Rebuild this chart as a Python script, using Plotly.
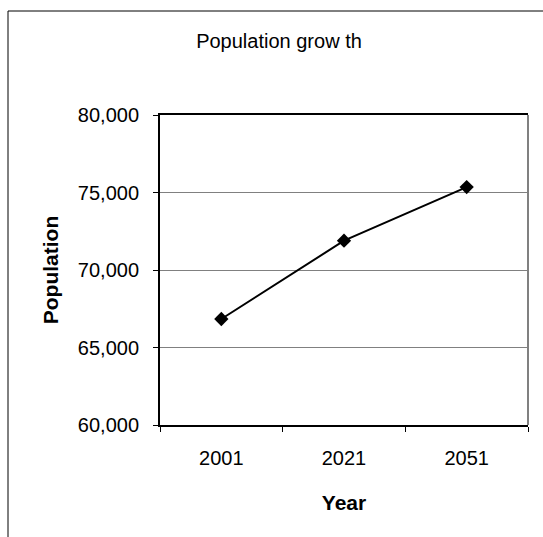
import plotly.graph_objects as go

years = ["2001", "2021", "2051"]
population = [66840, 71890, 75350]
y_ticks = [60000, 65000, 70000, 75000, 80000]
y_tick_labels = ["60,000", "65,000", "70,000", "75,000", "80,000"]

FONT = "Arial, Liberation Sans, sans-serif"

fig = go.Figure()
fig.add_trace(go.Scatter(
    x=years, y=population, mode="lines+markers",
    line=dict(color="black", width=2),
    marker=dict(symbol="diamond", size=11, color="black"),
    showlegend=False, hoverinfo="skip",
))

fig.update_layout(
    width=543, height=537,
    margin=dict(l=160, r=15, t=115, b=112),
    paper_bgcolor="white", plot_bgcolor="white",
    font=dict(family=FONT, color="black", size=20),
    title=dict(text="Population grow th", x=279 / 543, xanchor="center",
               y=1 - 41 / 537, yanchor="middle",
               font=dict(family=FONT, size=20, color="black")),
    xaxis=dict(
        type="category", range=[-0.5, 2.5],
        showline=True, linecolor="black", linewidth=2, mirror=True,
        ticks="outside", tickson="boundaries", ticklen=5, tickcolor="black",
        tickfont=dict(size=20), ticklabelstandoff=14,
        showgrid=False, zeroline=False,
        title=dict(text="<b>Year</b>", font=dict(size=21), standoff=27),
    ),
    yaxis=dict(
        range=[60000, 80000], tickvals=y_ticks, ticktext=y_tick_labels,
        showline=True, linecolor="black", linewidth=2,
        ticks="outside", ticklen=5, tickcolor="black",
        tickfont=dict(size=20), ticklabelstandoff=10,
        showgrid=True, gridcolor="#808080", gridwidth=1, zeroline=False,
        title=dict(text="<b>Population</b>", font=dict(size=21), standoff=13),
    ),
    shapes=[
        dict(type="line", xref="paper", yref="paper", x0=1, x1=1, y0=0, y1=1,
             line=dict(color="#808080", width=2)),
        dict(type="rect", xref="paper", yref="paper",
             x0=(8 - 160) / 368, x1=(548 - 160) / 368,
             y0=(425 - 545) / 310, y1=(425 - 11) / 310,
             line=dict(color="black", width=1), layer="below"),
    ],
)

fig.write_html("out.html")
